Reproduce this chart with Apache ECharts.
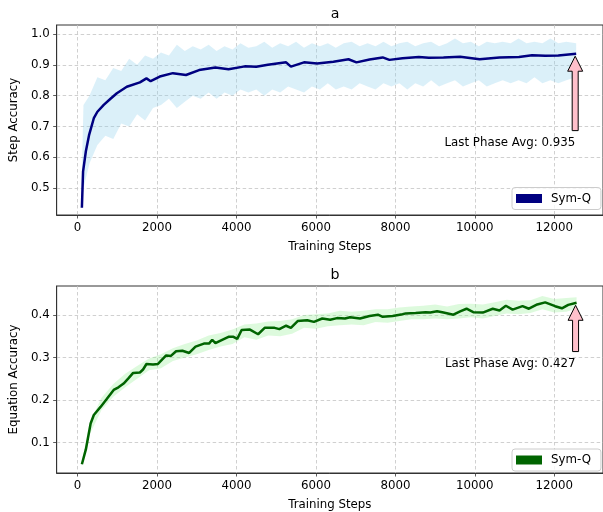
<!DOCTYPE html>
<html>
<head>
<meta charset="utf-8">
<script src="https://cdn.jsdelivr.net/npm/echarts@6/dist/echarts.min.js"></script>
<style>
html,body{margin:0;padding:0;background:#fff;}
#c{width:603px;height:512px;}
</style>
</head>
<body>
<div id="c"></div>
<script>
// ---------- data ----------
const xTicks = [0, 2000, 4000, 6000, 8000, 10000, 12000];
const yTicksA = [0.5, 0.6, 0.7, 0.8, 0.9, 1.0];
const yTicksB = [0.1, 0.2, 0.3, 0.4];

// panel a: smoothed step accuracy
const stepsA = [110, 140, 210, 290, 410, 500, 660, 830, 990, 1240, 1570, 1735, 1840, 2070, 2400, 2730, 3060, 3470, 3800, 4210, 4500, 4790, 5250, 5370, 5700, 6030, 6440, 6820, 7020, 7350, 7680, 7850, 8180, 8590, 8840, 9210, 9630, 10120, 10620, 11110, 11440, 11770, 12100, 12550];
const accA = [0.437, 0.555, 0.620, 0.672, 0.727, 0.748, 0.770, 0.790, 0.808, 0.829, 0.843, 0.856, 0.847, 0.862, 0.873, 0.867, 0.883, 0.891, 0.886, 0.895, 0.894, 0.900, 0.908, 0.894, 0.908, 0.904, 0.910, 0.918, 0.908, 0.917, 0.924, 0.916, 0.921, 0.925, 0.923, 0.924, 0.926, 0.918, 0.924, 0.925, 0.931, 0.929, 0.930, 0.936];
// panel a: raw spread (band envelope)
const bandStepsA = [100, 150, 300, 500, 700, 900, 1100, 1300, 1500, 1700, 1900, 2100, 2300, 2500, 2700, 2900, 3100, 3300, 3500, 3700, 3900, 4100, 4300, 4500, 4700, 4900, 5100, 5300, 5500, 5700, 5900, 6100, 6300, 6500, 6700, 6900, 7100, 7300, 7500, 7700, 7900, 8100, 8300, 8500, 8700, 8900, 9100, 9300, 9500, 9700, 9900, 10100, 10300, 10500, 10700, 10900, 11100, 11300, 11500, 11700, 11900, 12100, 12300, 12550];
const bandHiA = [0.50, 0.77, 0.80, 0.86, 0.85, 0.89, 0.88, 0.92, 0.90, 0.93, 0.92, 0.94, 0.93, 0.965, 0.945, 0.96, 0.95, 0.965, 0.945, 0.96, 0.95, 0.97, 0.955, 0.96, 0.975, 0.955, 0.97, 0.96, 0.975, 0.955, 0.97, 0.96, 0.97, 0.955, 0.97, 0.975, 0.96, 0.97, 0.96, 0.975, 0.96, 0.97, 0.975, 0.96, 0.97, 0.975, 0.96, 0.97, 0.985, 0.97, 0.975, 0.96, 0.975, 0.97, 0.975, 0.97, 0.985, 0.97, 0.975, 0.97, 0.985, 0.97, 0.975, 0.97];
const bandLoA = [0.44, 0.50, 0.58, 0.64, 0.67, 0.66, 0.71, 0.70, 0.74, 0.72, 0.76, 0.77, 0.79, 0.76, 0.78, 0.80, 0.79, 0.81, 0.79, 0.81, 0.80, 0.82, 0.81, 0.82, 0.80, 0.82, 0.81, 0.83, 0.82, 0.81, 0.83, 0.82, 0.84, 0.82, 0.83, 0.82, 0.84, 0.83, 0.82, 0.84, 0.83, 0.84, 0.82, 0.84, 0.83, 0.85, 0.83, 0.84, 0.85, 0.83, 0.84, 0.85, 0.83, 0.84, 0.85, 0.84, 0.85, 0.84, 0.86, 0.84, 0.85, 0.84, 0.85, 0.86];

// panel b: smoothed equation accuracy
const stepsB = [110, 210, 330, 410, 580, 740, 910, 1030, 1160, 1280, 1400, 1570, 1650, 1735, 1900, 2025, 2230, 2350, 2480, 2640, 2810, 2970, 3180, 3310, 3390, 3470, 3640, 3800, 3925, 4020, 4130, 4340, 4545, 4710, 4960, 5080, 5250, 5370, 5540, 5780, 5950, 6160, 6360, 6530, 6730, 6860, 7110, 7350, 7560, 7680, 7930, 8180, 8260, 8510, 8760, 8880, 9050, 9210, 9460, 9630, 9790, 9960, 10200, 10450, 10620, 10780, 10950, 11200, 11360, 11570, 11770, 12020, 12190, 12350, 12560];
const accB = [0.049, 0.084, 0.145, 0.165, 0.184, 0.203, 0.224, 0.230, 0.239, 0.251, 0.264, 0.265, 0.272, 0.285, 0.284, 0.285, 0.305, 0.304, 0.315, 0.316, 0.311, 0.326, 0.333, 0.333, 0.342, 0.334, 0.342, 0.349, 0.349, 0.344, 0.365, 0.366, 0.355, 0.370, 0.370, 0.367, 0.375, 0.370, 0.386, 0.388, 0.384, 0.392, 0.389, 0.393, 0.392, 0.395, 0.392, 0.398, 0.401, 0.396, 0.398, 0.402, 0.404, 0.405, 0.407, 0.406, 0.409, 0.406, 0.401, 0.409, 0.415, 0.407, 0.406, 0.415, 0.411, 0.422, 0.413, 0.421, 0.415, 0.425, 0.430, 0.421, 0.416, 0.424, 0.429];
const bandStepsB = [110, 300, 600, 900, 1200, 1500, 1800, 2100, 2400, 2700, 3000, 3300, 3600, 3900, 4200, 4500, 4800, 5100, 5400, 5700, 6000, 6300, 6600, 6900, 7200, 7500, 7800, 8100, 8400, 8700, 9000, 9300, 9600, 9900, 10200, 10500, 10800, 11100, 11400, 11700, 12000, 12300, 12560];
const bandHiB = [0.056, 0.145, 0.205, 0.238, 0.262, 0.280, 0.298, 0.308, 0.322, 0.332, 0.340, 0.352, 0.358, 0.366, 0.378, 0.380, 0.385, 0.386, 0.390, 0.400, 0.402, 0.404, 0.410, 0.408, 0.410, 0.414, 0.414, 0.418, 0.420, 0.422, 0.425, 0.420, 0.426, 0.427, 0.425, 0.430, 0.436, 0.434, 0.435, 0.445, 0.438, 0.440, 0.442];
const bandLoB = [0.045, 0.118, 0.176, 0.208, 0.230, 0.250, 0.270, 0.275, 0.292, 0.300, 0.308, 0.318, 0.326, 0.332, 0.348, 0.342, 0.352, 0.350, 0.356, 0.370, 0.368, 0.374, 0.376, 0.378, 0.376, 0.384, 0.382, 0.386, 0.390, 0.390, 0.392, 0.390, 0.392, 0.395, 0.392, 0.398, 0.404, 0.402, 0.405, 0.414, 0.406, 0.408, 0.415];

const lastAvg = [0.935, 0.427];
const annotTextY = [0.648, 0.286];
const titles = ['a', 'b'];
const yNames = ['Step Accuracy', 'Equation Accuracy'];
const xName = 'Training Steps';
const seriesName = 'Sym-Q';

// ---------- chart ----------
const FONT = 'DejaVu Sans';
const FS = 11.8;
const chart = echarts.init(document.getElementById('c'), null, {renderer: 'canvas'});

const grids = [
  {left: 52.7, top: 25, width: 554.8, height: 190},
  {left: 52.7, top: 286, width: 554.8, height: 190.7}
].map(g => Object.assign(g, {show: true, borderColor: '#333', borderWidth: 1, backgroundColor: 'transparent'}));

function xAxisCfg(gi) {
  return {
    type: 'value', gridIndex: gi, min: -525, max: 13225,
    name: xName, nameLocation: 'middle', nameGap: 26,
    nameTextStyle: {color: '#000', fontSize: FS, fontFamily: FONT},
    axisLine: {show: true, onZero: false, lineStyle: {color: '#333', width: 1}},
    axisTick: {show: true, inside: false, length: 3.5, customValues: xTicks, lineStyle: {color: '#333', width: 0.8}},
    axisLabel: {customValues: xTicks, margin: 7, color: '#000', fontSize: FS, fontFamily: FONT,
      formatter: v => String(Math.round(v))},
    splitLine: {show: true, lineStyle: {color: '#c4c4c4', type: [3.5, 2.5], width: 0.8}}
  };
}
function yAxisCfg(gi, min, max, ticks) {
  return {
    type: 'value', gridIndex: gi, min: min, max: max,
    name: yNames[gi], nameLocation: 'middle', nameGap: 33,
    nameTextStyle: {color: '#000', fontSize: FS, fontFamily: FONT},
    axisLine: {show: true, onZero: false, lineStyle: {color: '#333', width: 1}},
    axisTick: {show: true, inside: false, length: 3.5, customValues: ticks, lineStyle: {color: '#333', width: 0.8}},
    axisLabel: {customValues: ticks, margin: 7, color: '#000', fontSize: FS, fontFamily: FONT,
      formatter: v => Number(v).toFixed(1)},
    splitLine: {show: true, lineStyle: {color: '#c4c4c4', type: [3.5, 2.5], width: 0.8}}
  };
}
function band(gi, xs, lo, hi, fill) {
  return {
    type: 'custom', name: 'band' + gi, xAxisIndex: gi, yAxisIndex: gi, silent: true, z: 1, clip: true,
    data: [[xs[0], lo[0]]],
    renderItem: function (params, api) {
      const pts = [];
      for (let i = 0; i < xs.length; i++) pts.push(api.coord([xs[i], hi[i]]));
      for (let i = xs.length - 1; i >= 0; i--) pts.push(api.coord([xs[i], lo[i]]));
      return {type: 'polygon', shape: {points: pts}, style: {fill: fill}};
    }
  };
}
function zip(a, b) { return a.map((v, i) => [v, b[i]]); }

const legendBase = {
  orient: 'vertical', icon: 'rect', itemWidth: 26, itemHeight: 9,
  padding: [5, 10, 5, 4], borderColor: '#cccccc', borderWidth: 1, borderRadius: 3,
  backgroundColor: 'rgba(255,255,255,0.8)',
  textStyle: {color: '#000', fontSize: FS, fontFamily: FONT, padding: [0, 0, 0, 4]},
  formatter: () => seriesName, selectedMode: false
};

const option = {
  animation: false,
  textStyle: {fontFamily: FONT},
  title: [
    {text: titles[0], left: 330, top: 2, textAlign: 'center', textStyle: {fontSize: 14.2, fontWeight: 'normal', color: '#000', fontFamily: FONT}},
    {text: titles[1], left: 330, top: 263, textAlign: 'center', textStyle: {fontSize: 14.2, fontWeight: 'normal', color: '#000', fontFamily: FONT}}
  ],
  grid: grids,
  xAxis: [xAxisCfg(0), xAxisCfg(1)],
  yAxis: [yAxisCfg(0, 0.4135, 1.029, yTicksA), yAxisCfg(1, 0.0285, 0.4685, yTicksB)],
  legend: [
    Object.assign({}, legendBase, {left: 512, top: 187.5, data: [{name: seriesName + ' a'}]}),
    Object.assign({}, legendBase, {left: 512, top: 449, data: [{name: seriesName + ' b'}]})
  ],
  series: [
    band(0, bandStepsA, bandLoA, bandHiA, 'rgba(135,206,235,0.3)'),
    {type: 'line', name: seriesName + ' a', xAxisIndex: 0, yAxisIndex: 0, data: zip(stepsA, accA),
      showSymbol: false, color: '#000080', lineStyle: {color: '#000080', width: 2.5}, z: 3},
    band(1, bandStepsB, bandLoB, bandHiB, 'rgba(144,238,144,0.3)'),
    {type: 'line', name: seriesName + ' b', xAxisIndex: 1, yAxisIndex: 1, data: zip(stepsB, accB),
      showSymbol: false, color: '#006400', lineStyle: {color: '#006400', width: 2.5}, z: 3}
  ]
};
chart.setOption(option);

// ---------- annotations (positions via the chart's scales) ----------
const graphics = [];
[[stepsA, accA], [stepsB, accB]].forEach(([xs, ys], gi) => {
  const n = xs.length - 1;
  const tip = chart.convertToPixel({gridIndex: gi}, [xs[n], ys[n]]);
  const txt = chart.convertToPixel({gridIndex: gi}, [xs[n], annotTextY[gi]]);
  const tx = tip[0] - 1, ty = tip[1] + 2.5;
  const tail = txt[1] - 12;
  graphics.push({
    type: 'polygon', z: 10,
    shape: {points: [[tx, ty], [tx + 7.5, ty + 15], [tx + 3, ty + 15], [tx + 3, tail], [tx - 3, tail], [tx - 3, ty + 15], [tx - 7.5, ty + 15]]},
    style: {fill: '#ffc0cb', stroke: '#000', lineWidth: 1}
  });
  graphics.push({
    type: 'text', z: 10, x: tx, y: txt[1],
    style: {text: 'Last Phase Avg: ' + lastAvg[gi].toFixed(3), fill: '#000', fontSize: FS, fontFamily: FONT, align: 'right', verticalAlign: 'middle'}
  });
});
chart.setOption({graphic: graphics});
</script>
</body>
</html>
